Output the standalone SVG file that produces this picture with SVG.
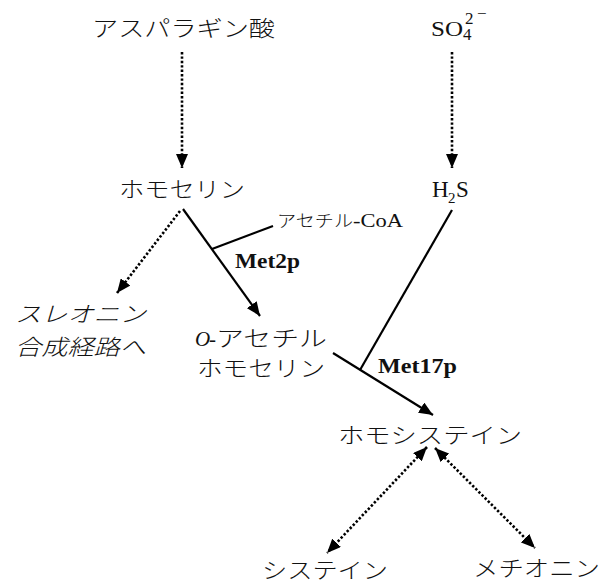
<svg xmlns="http://www.w3.org/2000/svg" width="611" height="583" viewBox="0 0 611 583">
<style>
.jp{font-family:"Noto Sans CJK JP","Noto Sans",sans-serif;font-size:22px;font-weight:300;fill:#111}
.it{font-style:italic}
.lt{font-family:"Liberation Serif","Times New Roman",serif;fill:#111}
.b{font-weight:bold}
.solid{stroke:#000;stroke-width:2.2;fill:none}
.dot{stroke:#000;stroke-width:2.6;stroke-dasharray:2.4 2;fill:none}
</style>
<defs>
<marker id="ah" viewBox="0 0 14 12" refX="14" refY="6" markerWidth="14" markerHeight="12" markerUnits="userSpaceOnUse" orient="auto-start-reverse">
<path d="M0,0 L14,6 L0,12 z" fill="#000"/>
</marker>
</defs>
<rect width="611" height="583" fill="#fff"/>
<g id="connectors">
<line class="dot" x1="182" y1="52" x2="182" y2="168" marker-end="url(#ah)"/>
<line class="dot" x1="452" y1="52" x2="452" y2="168" marker-end="url(#ah)"/>
<line class="dot" x1="180" y1="211" x2="117" y2="293" marker-end="url(#ah)"/>
<line class="solid" x1="183" y1="209" x2="260" y2="316" marker-end="url(#ah)"/>
<line class="solid" x1="212" y1="249" x2="273" y2="226"/>
<line class="solid" x1="452" y1="210" x2="360" y2="370"/>
<line class="solid" x1="333" y1="353" x2="433" y2="415" marker-end="url(#ah)"/>
<line class="dot" x1="427" y1="447" x2="327" y2="553" marker-start="url(#ah)" marker-end="url(#ah)"/>
<line class="dot" x1="435" y1="448" x2="535" y2="548" marker-start="url(#ah)" marker-end="url(#ah)"/>
</g>
<g id="aspartate"><text class="jp" x="92" y="36" textLength="183" lengthAdjust="spacingAndGlyphs">アスパラギン酸</text></g>
<g id="sulfate">
<text class="lt" x="431" y="36" font-size="22" textLength="32" lengthAdjust="spacingAndGlyphs">SO</text>
<text class="lt" x="463" y="40" font-size="17">4</text>
<text class="lt" x="465" y="24" font-size="17">2</text>
<text class="lt" x="477" y="19" font-size="17">−</text>
</g>
<g id="homoserine"><text class="jp" x="119" y="197" textLength="126" lengthAdjust="spacingAndGlyphs">ホモセリン</text></g>
<g id="h2s">
<text class="lt" x="432" y="197" font-size="23">H</text>
<text class="lt" x="448" y="203" font-size="15">2</text>
<text class="lt" x="456" y="197" font-size="23">S</text>
</g>
<g id="acetylcoa">
<text class="jp" x="277" y="227" style="font-size:17px" textLength="76" lengthAdjust="spacingAndGlyphs">アセチル</text>
<text class="lt" x="353" y="227" font-size="19" textLength="50" lengthAdjust="spacingAndGlyphs">-CoA</text>
</g>
<g id="met2p"><text class="lt b" x="235" y="268" font-size="22" textLength="65" lengthAdjust="spacingAndGlyphs">Met2p</text></g>
<g id="threonine">
<text class="jp it" x="15" y="322" textLength="131" lengthAdjust="spacingAndGlyphs">スレオニン</text>
<text class="jp it" x="15" y="355" textLength="131" lengthAdjust="spacingAndGlyphs">合成経路へ</text>
</g>
<g id="oacetylhomoserine">
<text class="lt it" x="195" y="346" font-size="21">O</text>
<text class="lt" x="209" y="346" font-size="21">-</text>
<text class="jp" x="216" y="346" textLength="111" lengthAdjust="spacingAndGlyphs">アセチル</text>
<text class="jp" x="197" y="376" textLength="128" lengthAdjust="spacingAndGlyphs">ホモセリン</text>
</g>
<g id="met17p"><text class="lt b" x="378" y="373" font-size="22" textLength="79" lengthAdjust="spacingAndGlyphs">Met17p</text></g>
<g id="homocysteine"><text class="jp" x="338" y="443" textLength="184" lengthAdjust="spacingAndGlyphs">ホモシステイン</text></g>
<g id="cysteine"><text class="jp" x="262" y="578" textLength="126" lengthAdjust="spacingAndGlyphs">システイン</text></g>
<g id="methionine"><text class="jp" x="473" y="576" textLength="127" lengthAdjust="spacingAndGlyphs">メチオニン</text></g>
</svg>
